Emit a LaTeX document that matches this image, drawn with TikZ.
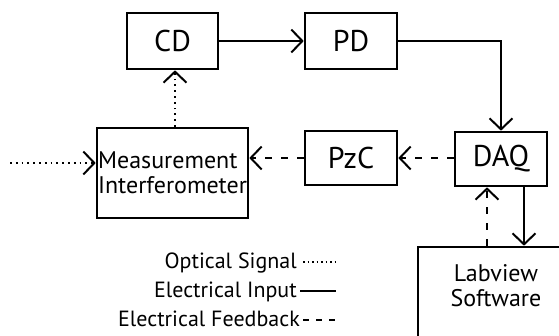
\documentclass[tikz,border=0pt]{standalone}
\usepackage{fontspec}
\setmainfont{PT Sans}
\usetikzlibrary{arrows.meta}
\tikzset{
  blk/.style={draw, line width=2.6pt, inner sep=0pt, font=\fontsize{30}{32}\selectfont},
  conn/.style={line width=1.2pt},
  tip/.style={-{Straight Barb[length=11pt,width=23pt,line width=2pt]}},
  optic/.style={line width=1.5pt, dash pattern=on 1.8pt off 4pt},
  fb/.style={conn, dash pattern=on 7pt off 9pt},
  legtxt/.style={font=\fontsize{22}{24}\selectfont, inner sep=0pt, anchor=base east},
}
\begin{document}
\begin{tikzpicture}[x=1pt,y=-1pt]
\clip (0,0) rectangle (559,335);
\fill[white] (0,0) rectangle (559,335);
% boxes
\node[blk, minimum width=91pt, minimum height=56pt] (cd) at (172.5,41) {CD};
\node[blk, minimum width=92pt, minimum height=56pt] (pd) at (351,41) {PD};
\node[blk, minimum width=92pt, minimum height=54pt] (daq) at (501,159) {DAQ};
\node[blk, minimum width=92pt, minimum height=54pt] (pzc) at (351,158) {PzC};
\node[blk, minimum width=151pt, minimum height=90pt, align=left,
      font=\fontsize{24}{25}\selectfont] (meas) at (172.5,173) {Measurement\\Interferometer};
\node[draw, line width=2.6pt, minimum width=170pt, minimum height=130pt, inner sep=0pt] (lab) at (503,312) {};
\node[font=\fontsize{24}{25}\selectfont, align=center, inner sep=0pt] (labtxt) at (496,286) {Labview\\Software};
% connectors
\draw[conn, tip] (cd.east) -- (pd.west);
\draw[conn, tip] (pd.east) -| (daq.north);
\draw[optic, tip] ([xshift=2.5pt]meas.north) -- ([xshift=2.5pt]meas.north |- cd.south);
\coordinate (src) at (10,163);
\draw[optic, tip] (src) -- (src -| meas.west);
\draw[fb, tip] (daq.west |- pzc.east) -- (pzc.east);
\draw[fb, tip] (pzc.west) -- (pzc.west -| meas.east);
\draw[conn, tip] ([xshift=23pt]daq.south) -- ([xshift=23pt]daq.south |- lab.north);
\draw[fb, tip] ([xshift=-14pt]daq.south |- lab.north) -- ([xshift=-14pt]daq.south);
% legend
\node[legtxt] (lopt) at (297,268) {Optical Signal};
\node[legtxt] (lin) at (297,297) {Electrical Input};
\node[legtxt] (lfb) at (300,326) {Electrical Feedback};
\coordinate (o1) at (303,262); \coordinate (o2) at (337,262);
\coordinate (i1) at (300,291); \coordinate (i2) at (336,291);
\coordinate (f1) at (303,320); \coordinate (f2) at (337,320);
\draw[line width=1.4pt, dash pattern=on 1.5pt off 3pt] (o1) -- (o2);
\draw[conn] (i1) -- (i2);
\draw[conn, dash pattern=on 6pt off 7pt] (f1) -- (f2);
\end{tikzpicture}
\end{document}
